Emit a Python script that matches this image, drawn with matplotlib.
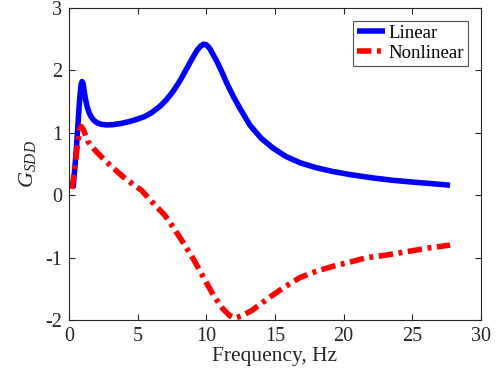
import matplotlib
matplotlib.use("Agg")
import matplotlib.pyplot as plt

plt.rcParams['font.family'] = ['Liberation Serif', 'DejaVu Serif']
plt.rcParams['mathtext.fontset'] = 'custom'
plt.rcParams['mathtext.rm'] = 'Liberation Serif'
plt.rcParams['mathtext.it'] = 'Liberation Serif:italic'
plt.rcParams['axes.unicode_minus'] = False

# Spectral response of the SDD gain, linear vs nonlinear model
freq_linear = [0.3, 0.45, 0.6, 0.7, 0.8, 0.88, 0.95, 1.02, 1.1, 1.2, 1.32,
               1.45, 1.6, 1.8, 2.05, 2.35, 2.75, 3.2, 3.8, 4.4, 5.0, 5.5,
               6.0, 6.6, 7.1, 7.6, 8.1, 8.6, 9.0, 9.35, 9.6, 9.8, 10.0,
               10.25, 10.5, 10.8, 11.12, 11.5, 11.97, 12.5, 13.18, 14.0,
               14.88, 15.8, 16.82, 18.0, 19.2, 20.47, 22.0, 23.5, 25.0,
               26.4, 27.75]
g_linear = [0.12, 0.5, 0.95, 1.3, 1.6, 1.77, 1.82, 1.79, 1.68, 1.54, 1.42,
            1.33, 1.26, 1.2, 1.16, 1.135, 1.125, 1.13, 1.15, 1.18, 1.22,
            1.26, 1.32, 1.42, 1.53, 1.67, 1.84, 2.04, 2.2, 2.33, 2.39, 2.42,
            2.41, 2.35, 2.25, 2.13, 1.98, 1.79, 1.58, 1.37, 1.12, 0.91,
            0.75, 0.62, 0.52, 0.44, 0.38, 0.33, 0.28, 0.24, 0.21, 0.185,
            0.16]

freq_nonlinear = [0.22, 0.4, 0.6, 0.78, 0.9, 1.05, 1.38, 1.9, 2.6, 3.2, 3.81,
                  4.5, 5.27, 6.1, 6.97, 7.36, 8.2, 9.05, 9.8, 10.51, 11.2,
                  11.7, 12.09, 12.6, 13.3, 14.64, 15.7, 16.82, 18.0, 19.2,
                  20.5, 21.7, 22.8, 23.9, 25.0, 26.05, 27.75]
g_nonlinear = [0.1, 0.4, 0.78, 1.05, 1.10, 1.05, 0.86, 0.72, 0.56, 0.44, 0.32,
               0.2, 0.08, -0.12, -0.32, -0.44, -0.72, -1.02, -1.32, -1.6,
               -1.82, -1.93, -1.97, -1.93, -1.85, -1.63, -1.47, -1.32, -1.22,
               -1.14, -1.07, -1.0, -0.97, -0.93, -0.89, -0.85, -0.80]

x_ticks = [0, 5, 10, 15, 20, 25, 30]
y_ticks = [-2, -1, 0, 1, 2, 3]

axis_color = '#262626'

fig = plt.figure(figsize=(5.0, 3.78), dpi=100)
ax = fig.add_axes([0.138, 0.1534, 0.824, 0.8256])

ax.plot(freq_linear, g_linear, color='#0000ff', lw=4.0,
        solid_capstyle='butt', solid_joinstyle='round', label='Linear')
ax.plot(freq_nonlinear, g_nonlinear, color='#ff0000', lw=4.0,
        linestyle=(0, (2.6, 1.0, 0.7, 1.0)), dash_capstyle='butt',
        label='Nonlinear')

ax.set_xlim(0, 30)
ax.set_ylim(-2, 3)
ax.set_xticks(x_ticks)
ax.set_yticks(y_ticks)
ax.tick_params(direction='in', top=True, right=True, length=4, width=0.8,
               labelsize=14.5, colors=axis_color, pad=5)
for side in ax.spines.values():
    side.set_color(axis_color)
    side.set_linewidth(0.8)

ax.set_xlabel('Frequency, Hz', fontsize=15.5, color=axis_color, labelpad=1)
ax.set_ylabel(r'$G_{SDD}$', fontsize=16, color=axis_color, labelpad=5)

leg = ax.legend(loc='upper right', fontsize=13.5, frameon=True, fancybox=False,
                edgecolor=axis_color, handlelength=1.5, handletextpad=0.2,
                borderpad=0.2, labelspacing=0.15, borderaxespad=0.7)
leg.get_frame().set_linewidth(0.8)

fig.savefig('out.png', dpi=100)
